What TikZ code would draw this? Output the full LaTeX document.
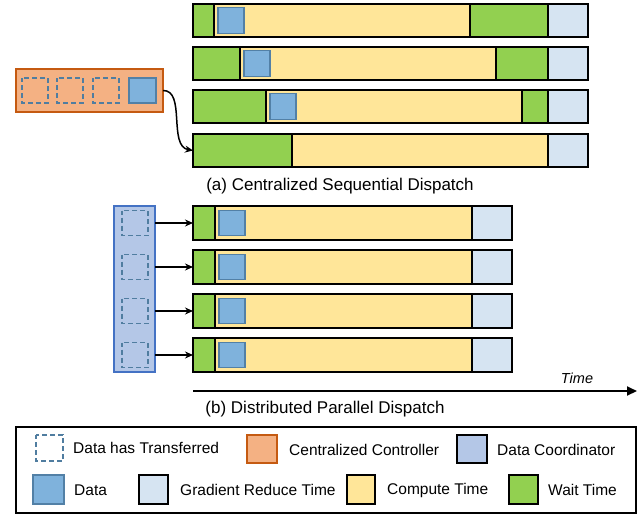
\documentclass[tikz,border=0pt]{standalone}
\usepackage{fontspec}
\setmainfont{Liberation Sans}
\usetikzlibrary{arrows.meta}
\definecolor{waitc}{RGB}{146,208,80}
\definecolor{compc}{RGB}{255,230,153}
\definecolor{gradc}{RGB}{214,228,242}
\definecolor{datafill}{RGB}{127,178,220}
\definecolor{datadraw}{RGB}{82,128,166}
\definecolor{ctrlfill}{RGB}{244,177,131}
\definecolor{ctrldraw}{RGB}{197,90,17}
\definecolor{coordfill}{RGB}{180,199,231}
\definecolor{coorddraw}{RGB}{68,114,196}
\definecolor{dashc}{RGB}{80,125,160}
\tikzset{
  seg/.style={draw=black, line width=1.8pt},
  waitseg/.style={seg, fill=waitc},
  compseg/.style={seg, fill=compc},
  gradseg/.style={seg, fill=gradc},
  databox/.style={draw=datadraw, fill=datafill, line width=1.6pt},
  sentbox/.style={draw=dashc, line width=1.8pt, dash pattern=on 5pt off 3pt, dash phase=1pt},
  ctrlbox/.style={draw=ctrldraw, fill=ctrlfill, line width=1.6pt},
  coordbox/.style={draw=coorddraw, fill=coordfill, line width=1.6pt},
  boxnode/.style={inner sep=0pt, outer sep=0pt, anchor=north west},
  legtext/.style={font=\fontsize{15.5}{18}\selectfont, anchor=west, inner sep=0pt},
  captext/.style={font=\fontsize{17}{20}\selectfont, inner sep=0pt},
  conn/.style={line width=1.5pt, -{Stealth[length=8pt,width=7pt]}},
}
\begin{document}
\begin{tikzpicture}[x=1pt,y=-1pt]
\useasboundingbox (0,0) rectangle (637,515);
% ---------- (a) ----------
\node[boxnode, ctrlbox, minimum width=147pt, minimum height=43pt] (ctrl) at (16,69) {};
\draw[sentbox] (22,78) rectangle (48,103);
\draw[sentbox] (57,78) rectangle (83,103);
\draw[sentbox] (93,78) rectangle (119,103);
\draw[databox] (129,78) rectangle (156,103);
\foreach \y/\g/\c in {4/214/470, 47/240/496, 90/266/522}{
  \draw[compseg] (\g,\y) rectangle (\c,\y+33);
  \draw[waitseg] (\c,\y) rectangle (548,\y+33);
  \draw[gradseg] (548,\y) rectangle (588,\y+33);
  \draw[waitseg] (193,\y) rectangle (\g,\y+33);
  \draw[databox] (\g+4,\y+3.5) rectangle (\g+30,\y+29.5);
}
\draw[compseg] (292,134) rectangle (548,167);
\draw[gradseg] (548,134) rectangle (588,167);
\node[boxnode, waitseg, minimum width=99pt, minimum height=33pt] (a4w) at (193,134) {};
\draw[conn] (ctrl.east) .. controls (186,90) and (168,146) .. (a4w.west);
\node[captext] (capa) at (340,186) {(a) Centralized Sequential Dispatch};
% ---------- (b) ----------
\node[boxnode, coordbox, minimum width=41pt, minimum height=166pt] (coord) at (114,206) {};
\foreach \y [count=\i] in {206,250,294,338}{
  \draw[compseg] (215,\y) rectangle (472,\y+34);
  \draw[gradseg] (472,\y) rectangle (512,\y+34);
  \node[boxnode, waitseg, minimum width=22pt, minimum height=34pt] (b\i) at (193,\y) {};
  \draw[databox] (219,\y+4.5) rectangle (245,\y+29.5);
  \draw[sentbox] (122,\y+4.5) rectangle (148,\y+29.5);
  \draw[conn] (coord.east |- b\i.west) -- (b\i.west);
}
\coordinate (t0) at (193,391);
\coordinate (t1) at (637,391);
\draw[line width=2pt, -{Triangle[length=10pt,width=9pt]}] (t0) -- (t1);
\node[font=\fontsize{14.5}{17}\selectfont\itshape, inner sep=0pt] (time) at (577,378) {Time};
\node[captext] (capb) at (325,409) {(b) Distributed Parallel Dispatch};
% ---------- legend ----------
\draw[line width=1.5pt] (16,427) rectangle (636,513);
\draw[sentbox] (36,435) rectangle (63,461);
\node[legtext] at (73,448) {Data has Transferred};
\draw[ctrlbox, line width=2pt] (247,435) rectangle (277,463);
\node[legtext] at (289,450) {Centralized Controller};
\draw[fill=coordfill, line width=2pt] (457,435) rectangle (487,463);
\node[legtext] at (497,450) {Data Coordinator};
\draw[databox, line width=2pt] (33,475) rectangle (64,504);
\node[legtext] at (74,490) {Data};
\draw[fill=gradc, line width=2pt] (139,475) rectangle (168,504);
\node[legtext] at (180,490) {Gradient Reduce Time};
\draw[fill=compc, line width=2pt] (347,475) rectangle (375,504);
\node[legtext] at (387,490) {Compute Time};
\draw[fill=waitc, line width=2pt] (509,475) rectangle (538,504);
\node[legtext] at (548,490) {Wait Time};
\end{tikzpicture}
\end{document}
